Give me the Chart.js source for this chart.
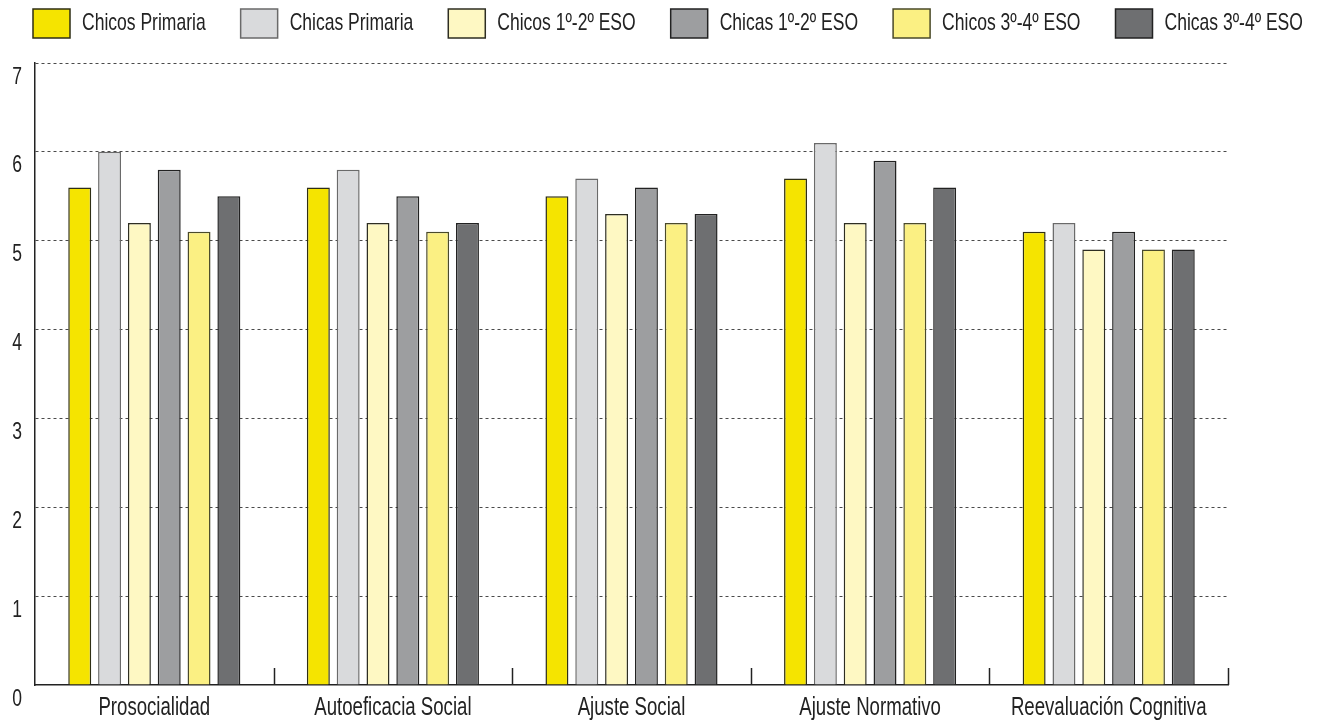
<!DOCTYPE html>
<html>
<head>
<meta charset="utf-8">
<script src="https://cdn.jsdelivr.net/npm/chart.js@4/dist/chart.umd.min.js"></script>
<style>
  html, body { margin: 0; padding: 0; background: #fff; }
  #wrap { width: 1319px; height: 722px; }
</style>
</head>
<body>
<div id="wrap"><canvas id="grafico"></canvas></div>
<script>
// categorías y series
const categorias = ['Prosocialidad', 'Autoeficacia Social', 'Ajuste Social', 'Ajuste Normativo', 'Reevaluación Cognitiva'];
const series = ['Chicos Primaria', 'Chicas Primaria', 'Chicos 1º-2º ESO', 'Chicas 1º-2º ESO', 'Chicos 3º-4º ESO', 'Chicas 3º-4º ESO'];

const chicosPrimaria = [5.6, 5.6, 5.5, 5.7, 5.1];
const chicasPrimaria = [6.0, 5.8, 5.7, 6.1, 5.2];
const chicos12 = [5.2, 5.2, 5.3, 5.2, 4.9];
const chicas12 = [5.8, 5.5, 5.6, 5.9, 5.1];
const chicos34 = [5.1, 5.1, 5.2, 5.2, 4.9];
const chicas34 = [5.5, 5.2, 5.3, 5.6, 4.9];

const yTicks = [0, 1, 2, 3, 4, 5, 6, 7];

const colores = ['#f5e400', '#d9dadc', '#fef8c3', '#9d9ea0', '#fbf083', '#6e6f71'];
const bordes = ['#2e2e14', '#6a6a6a', '#2e2e22', '#222222', '#4a4a2a', '#222222'];
const valores = [chicosPrimaria, chicasPrimaria, chicos12, chicas12, chicos34, chicas34];

const FUENTE = "'Liberation Sans', Arial, sans-serif";
const ESTRECHO = 0.73; // la fuente original es condensada
const SEP_LEYENDA = 35;

const ctx = document.getElementById('grafico').getContext('2d');

// texto condensado: se escala en horizontal al dibujar y al medir
const fillOrig = CanvasRenderingContext2D.prototype.fillText;
const measureOrig = CanvasRenderingContext2D.prototype.measureText;
ctx.fillText = function (text, x, y, maxWidth) {
  this.save();
  this.translate(x, y);
  this.scale(ESTRECHO, 1);
  if (maxWidth !== undefined) fillOrig.call(this, text, 0, 0, maxWidth / ESTRECHO);
  else fillOrig.call(this, text, 0, 0);
  this.restore();
};
ctx.measureText = function (text) {
  const m = measureOrig.call(this, text);
  return {
    width: m.width * ESTRECHO,
    actualBoundingBoxAscent: m.actualBoundingBoxAscent,
    actualBoundingBoxDescent: m.actualBoundingBoxDescent,
    actualBoundingBoxLeft: m.actualBoundingBoxLeft * ESTRECHO,
    actualBoundingBoxRight: m.actualBoundingBoxRight * ESTRECHO
  };
};

// marcas cortas entre categorías, hacia arriba desde el eje
const marcasEje = {
  id: 'marcasEje',
  afterDraw(chart) {
    const x = chart.scales.x;
    const bottom = chart.chartArea.bottom;
    const c = chart.ctx;
    c.save();
    c.strokeStyle = '#222';
    c.lineWidth = 1.5;
    for (let i = 0; i < categorias.length; i++) {
      const px = Math.round(x.getPixelForValue(i + 0.5)) + 0.5;
      c.beginPath();
      c.moveTo(px, bottom);
      c.lineTo(px, bottom - 17);
      c.stroke();
    }
    c.restore();
  }
};

// leyenda en una sola fila y con altura fija
const ajusteLeyenda = {
  id: 'ajusteLeyenda',
  beforeInit(chart) {
    const fit = chart.legend.fit;
    chart.legend.fit = function () {
      this.maxWidth = 5000;
      fit.call(this);
      this.width = chart.width;
      this.height = 89;
    };
  },
  afterLayout(chart) {
    chart.legend.left = 33 - SEP_LEYENDA;
    chart.legend.right = chart.width + 1000;
  }
};

new Chart(ctx, {
  type: 'bar',
  data: {
    labels: categorias,
    datasets: series.map((s, i) => ({
      label: s,
      data: valores[i],
      backgroundColor: colores[i],
      borderColor: bordes[i],
      borderWidth: 1.5,
      categoryPercentage: 0.75,
      barPercentage: 0.77
    }))
  },
  options: {
    responsive: true,
    maintainAspectRatio: false,
    animation: false,
    layout: { padding: { top: -26, right: 91, bottom: 0, left: 0 } },
    plugins: {
      legend: {
        position: 'top',
        align: 'start',
        labels: {
          boxWidth: 37,
          boxHeight: 29,
          padding: SEP_LEYENDA,
          color: '#222',
          font: { family: FUENTE, size: 24 }
        }
      },
      tooltip: { enabled: false }
    },
    scales: {
      x: {
        grid: { display: false, drawTicks: false },
        border: { display: true, color: '#222', width: 1.5 },
        ticks: {
          color: '#222',
          padding: 8,
          maxRotation: 0,
          minRotation: 0,
          autoSkip: false,
          font: { family: FUENTE, size: 25.5 }
        },
        afterFit(scale) { scale.height = 37; }
      },
      y: {
        min: 0,
        max: 7,
        afterBuildTicks(scale) { scale.ticks = yTicks.map(v => ({ value: v })); },
        grid: {
          drawTicks: false,
          color: c => (c.tick && c.tick.value === 0 ? 'transparent' : '#4a4a4a'),
          lineWidth: 1
        },
        border: { display: true, color: '#222', width: 1.5, dash: [3, 3] },
        ticks: {
          color: '#222',
          padding: 13,
          labelOffset: 14,
          font: { family: FUENTE, size: 24 }
        },
        afterFit(scale) { scale.width = 35; }
      }
    }
  },
  plugins: [marcasEje, ajusteLeyenda]
});
</script>
</body>
</html>
